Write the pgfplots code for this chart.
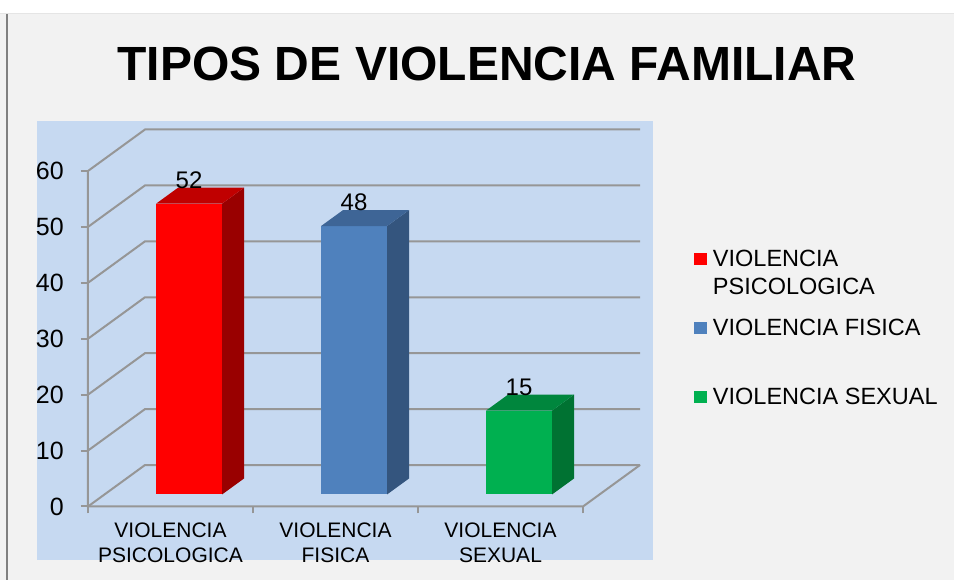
\documentclass[border=0pt]{standalone}
\usepackage{fontspec}
\setmainfont{Liberation Sans}
\usepackage{pgfplots}
\pgfplotsset{compat=1.18}
\definecolor{bgc}{HTML}{F2F2F2}
\definecolor{plotbg}{HTML}{C6D9F1}
\definecolor{gridc}{RGB}{150,150,150}
\definecolor{redF}{HTML}{FF0000}
\definecolor{redT}{HTML}{C00000}
\definecolor{redS}{HTML}{990000}
\definecolor{bluF}{HTML}{4F81BD}
\definecolor{bluT}{HTML}{3E6596}
\definecolor{bluS}{HTML}{34557E}
\definecolor{grnF}{HTML}{00B050}
\definecolor{grnT}{HTML}{00863D}
\definecolor{grnS}{HTML}{007232}
% side and top faces of a 3D bar: #1 category index, #2 value, #3 top colour, #4 side colour
\newcommand{\barfaces}[4]{%
  \fill[#4] (axis cs:{#1+0.8125},2.15) -- (axis cs:{#1+0.9458},5.01) -- (axis cs:{#1+0.9458},{#2+5.01}) -- (axis cs:{#1+0.8125},{#2+2.15}) -- cycle;
  \fill[#3] (axis cs:{#1+0.4125},{#2+2.15}) -- (axis cs:{#1+0.8125},{#2+2.15}) -- (axis cs:{#1+0.9458},{#2+5.01}) -- (axis cs:{#1+0.5458},{#2+5.01}) -- cycle;
}
\begin{document}
\begin{tikzpicture}
\useasboundingbox (-88pt,-73.5pt) rectangle (866pt,506.5pt);
\fill[white] (-88pt,-73.5pt) rectangle (866pt,506.5pt);
\fill[bgc] (-88pt,-73.5pt) rectangle (866pt,492.5pt);
\draw[gray!20, line width=1pt] (-88pt,492.5pt) -- (866pt,492.5pt);
\draw[gray, line width=2pt] (-80.5pt,-73.5pt) -- (-80.5pt,492.5pt);
\fill[plotbg] (-51pt,-53.5pt) rectangle (565pt,385.5pt);
\node[anchor=base, font=\bfseries\fontsize{48}{48}\selectfont] at (399pt,425.5pt) {TIPOS DE VIOLENCIA FAMILIAR};
\begin{axis}[
  x=165pt, y=5.5917pt, anchor=origin, at={(0pt,0pt)},
  xmin=0, xmax=3, ymin=0, ymax=60,
  enlargelimits=false,
  clip=false,
  axis line style={draw=none},
  tick pos=left,
  tick align=outside,
  major tick length=7pt,
  tick style={gridc, line width=2pt},
  xtick={0,1,2,3},
  xticklabels={},
  extra x ticks={0.5,1.5,2.5},
  extra x tick labels={{VIOLENCIA\\PSICOLOGICA},{VIOLENCIA\\FISICA},{VIOLENCIA\\SEXUAL}},
  extra x tick style={major tick length=0pt},
  xticklabel style={align=center, inner sep=0pt, yshift=-16pt, font=\fontsize{21}{25}\selectfont},
  ytick={0,10,...,60},
  yticklabel style={font=\fontsize{25}{25}\selectfont, anchor=east, inner sep=0pt, xshift=-17pt},
  /pgf/number format/assume math mode=true,
  legend cell align=left,
  legend style={at={(axis description cs:1.2242,0.7654)}, anchor=north west, draw=none, fill=none,
    inner sep=0pt, outer sep=0pt, font=\fontsize{23.5}{27.5}\selectfont,
    row sep=16pt, column sep=6pt, cells={anchor=base west},
    nodes={inner sep=0pt, anchor=base west, text height=17pt, text depth=36pt}},
  legend image code/.code={\fill[#1] (0pt,-10.8pt) rectangle (13pt,1.7pt);},
  every node near coord/.append style={font=\fontsize{24}{24}\selectfont, inner sep=0pt, anchor=base, xshift=18.56pt, yshift=15.5pt},
]
% back wall and floor grid
\pgfplotsinvokeforeach{0,10,20,30,40,50,60}{
  \draw[gridc, line width=2pt] (axis cs:0,#1) -- (axis cs:0.3455,{#1+7.42}) -- (axis cs:3.3455,{#1+7.42});
}
\draw[gridc, line width=2pt] (axis cs:0,60) -- (axis cs:0,0) -- (axis cs:3,0) -- (axis cs:3.3455,7.42);
% front faces of the bars
\addplot[ybar, fill=redF, draw=none, bar width=66pt, bar shift=18.56pt, yshift=12.02pt, nodes near coords] coordinates {(0.5,52)};
\addlegendentry{\begin{tabular}[t]{@{}l@{}}VIOLENCIA\\PSICOLOGICA\end{tabular}}
\addplot[ybar, fill=bluF, draw=none, bar width=66pt, bar shift=18.56pt, yshift=12.02pt, nodes near coords] coordinates {(1.5,48)};
\addlegendentry{VIOLENCIA FISICA}
\addplot[ybar, fill=grnF, draw=none, bar width=66pt, bar shift=18.56pt, yshift=12.02pt, nodes near coords] coordinates {(2.5,15)};
\addlegendentry{VIOLENCIA SEXUAL}
\barfaces{0}{52}{redT}{redS}
\barfaces{1}{48}{bluT}{bluS}
\barfaces{2}{15}{grnT}{grnS}
\end{axis}
\end{tikzpicture}
\end{document}
